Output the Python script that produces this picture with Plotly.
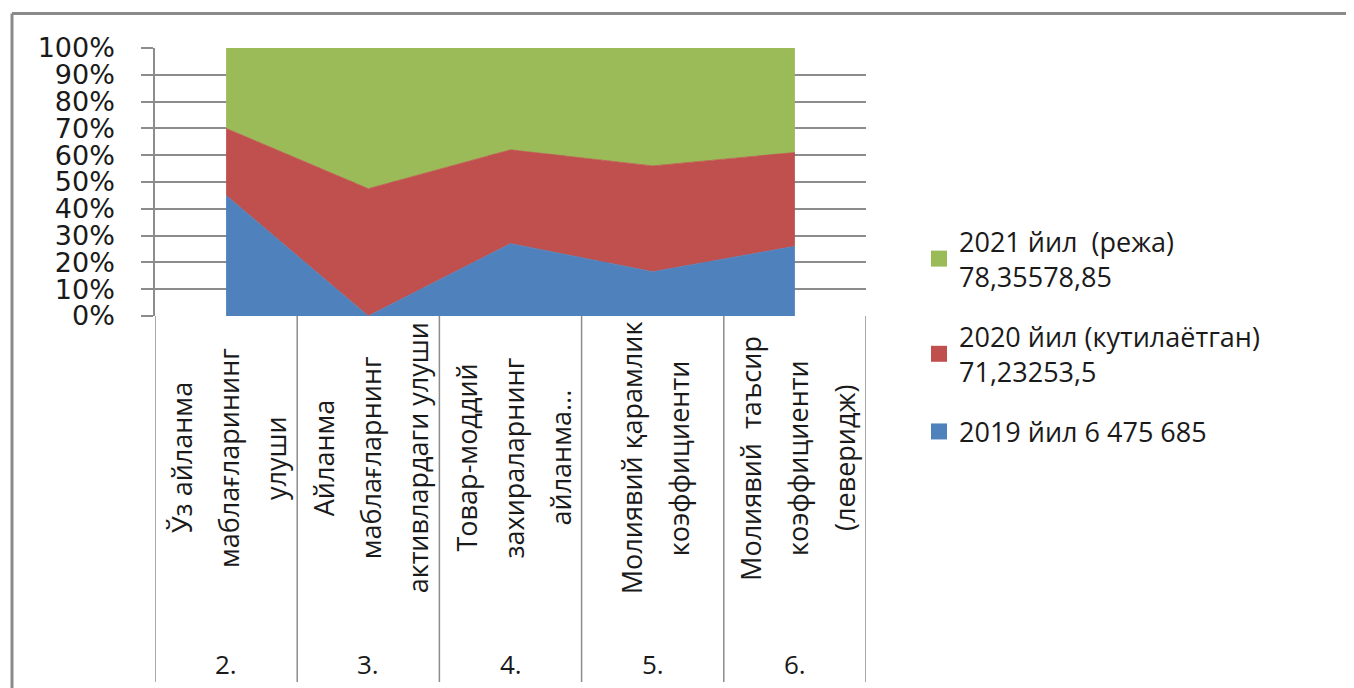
import plotly.graph_objects as go

# ---- data ----
codes = ["2.", "3.", "4.", "5.", "6."]
cat_lines = [
    ["Ўз айланма", "маблағларининг", "улуши"],
    ["Айланма", "маблағларнинг", "активлардаги улуши"],
    ["Товар-моддий", "захираларнинг", "айланма..."],
    ["Молиявий қарамлик", "коэффициенти"],
    ["Молиявий  таъсир", "коэффициенти", "(леверидж)"],
]
series_names = [
    "2019 йил 6 475 685",
    "2020 йил (кутилаётган)<br>71,23253,5",
    "2021 йил  (режа)<br>78,35578,85",
]
v2019 = [45, 0, 27, 16.5, 26]
v2020 = [25, 47.5, 35, 39.5, 35]
v2021 = [30, 52.5, 38, 44, 39]
colors = ["#4F81BD", "#C0504D", "#9BBB59"]

# page body margin of the html output
OFF = 8
SW, SH = 1354, 688
W, H = SW - OFF, SH - OFF
# plot area in screen pixels
L, R, T, B = 155, 866, 48, 316

x = list(range(len(codes)))
fig = go.Figure()
for name, vals, col in zip(series_names, [v2019, v2020, v2021], colors):
    fig.add_trace(go.Scatter(
        x=x, y=vals, name=name, mode="lines", stackgroup="one",
        groupnorm="percent", line=dict(width=0.8, color=col),
        fillcolor=col, showlegend=False, hoverinfo="skip"))
for i, (name, col) in enumerate(zip(series_names, colors)):
    fig.add_trace(go.Scatter(
        x=[None], y=[None], name=name, mode="markers",
        marker=dict(symbol="square", size=21, color=col),
        legendgroup=f"g{i}", legendrank=1000 - i, showlegend=True))

def px2x(p):
    return (p - L) / (R - L)

def px2y(p):
    return (B - p) / (B - T)

shapes = []
# category dividers
for i in range(len(codes) + 1):
    shapes.append(dict(type="line", xref="x", yref="paper",
                       x0=i - 0.5, x1=i - 0.5, y0=0, y1=px2y(682),
                       line=dict(color="#8c8c8c", width=1.5)))
# outer frame
shapes.append(dict(type="line", xref="paper", yref="paper",
                   x0=px2x(12), x1=px2x(1400), y0=px2y(13.5), y1=px2y(13.5),
                   line=dict(color="#8a8a8a", width=3)))
shapes.append(dict(type="line", xref="paper", yref="paper",
                   x0=px2x(12), x1=px2x(12), y0=px2y(13.5), y1=px2y(720),
                   line=dict(color="#8a8a8a", width=3)))

annotations = []
for i, (code, lines) in enumerate(zip(codes, cat_lines)):
    annotations.append(dict(
        x=i, y=px2y(664), xref="x", yref="paper", text=code,
        showarrow=False, xanchor="center", yanchor="middle",
        font=dict(family="Open Sans", size=26, color="#1a1a1a")))
    n = len(lines)
    for j, ln in enumerate(lines):
        annotations.append(dict(
            x=i, y=px2y(458), xref="x", yref="paper", text=ln,
            textangle=-90, showarrow=False, xanchor="center", yanchor="middle",
            xshift=(j - (n - 1) / 2) * 47 + 2,
            font=dict(family="Open Sans", size=27, color="#1a1a1a")))

fig.update_layout(
    width=W, height=H,
    margin=dict(l=L - OFF, r=W - (R - OFF), t=T - OFF, b=H - (B - OFF), pad=0),
    paper_bgcolor="white", plot_bgcolor="white",
    showlegend=True,
    legend=dict(
        x=px2x(919), y=px2y(217), xanchor="left", yanchor="top",
        traceorder="grouped", tracegroupgap=22,
        font=dict(family="Open Sans", size=27, color="#1a1a1a"),
        bgcolor="rgba(0,0,0,0)"),
    xaxis=dict(range=[-0.5, len(codes) - 0.5], showticklabels=False,
               showgrid=False, zeroline=False, showline=False, ticks="",
               fixedrange=True),
    yaxis=dict(range=[0, 100], dtick=10, ticksuffix="%", ticks="outside",
               ticklen=12, tickcolor="#8c8c8c", tickwidth=1.5,
               showgrid=True, gridcolor="#8c8c8c", gridwidth=1.5,
               zeroline=False, showline=True, linecolor="#8c8c8c",
               linewidth=1.5, ticklabelstandoff=21,
               tickfont=dict(family="DejaVu Sans", size=27, color="#1a1a1a")),
    shapes=shapes, annotations=annotations,
)

fig.write_html("out.html")
